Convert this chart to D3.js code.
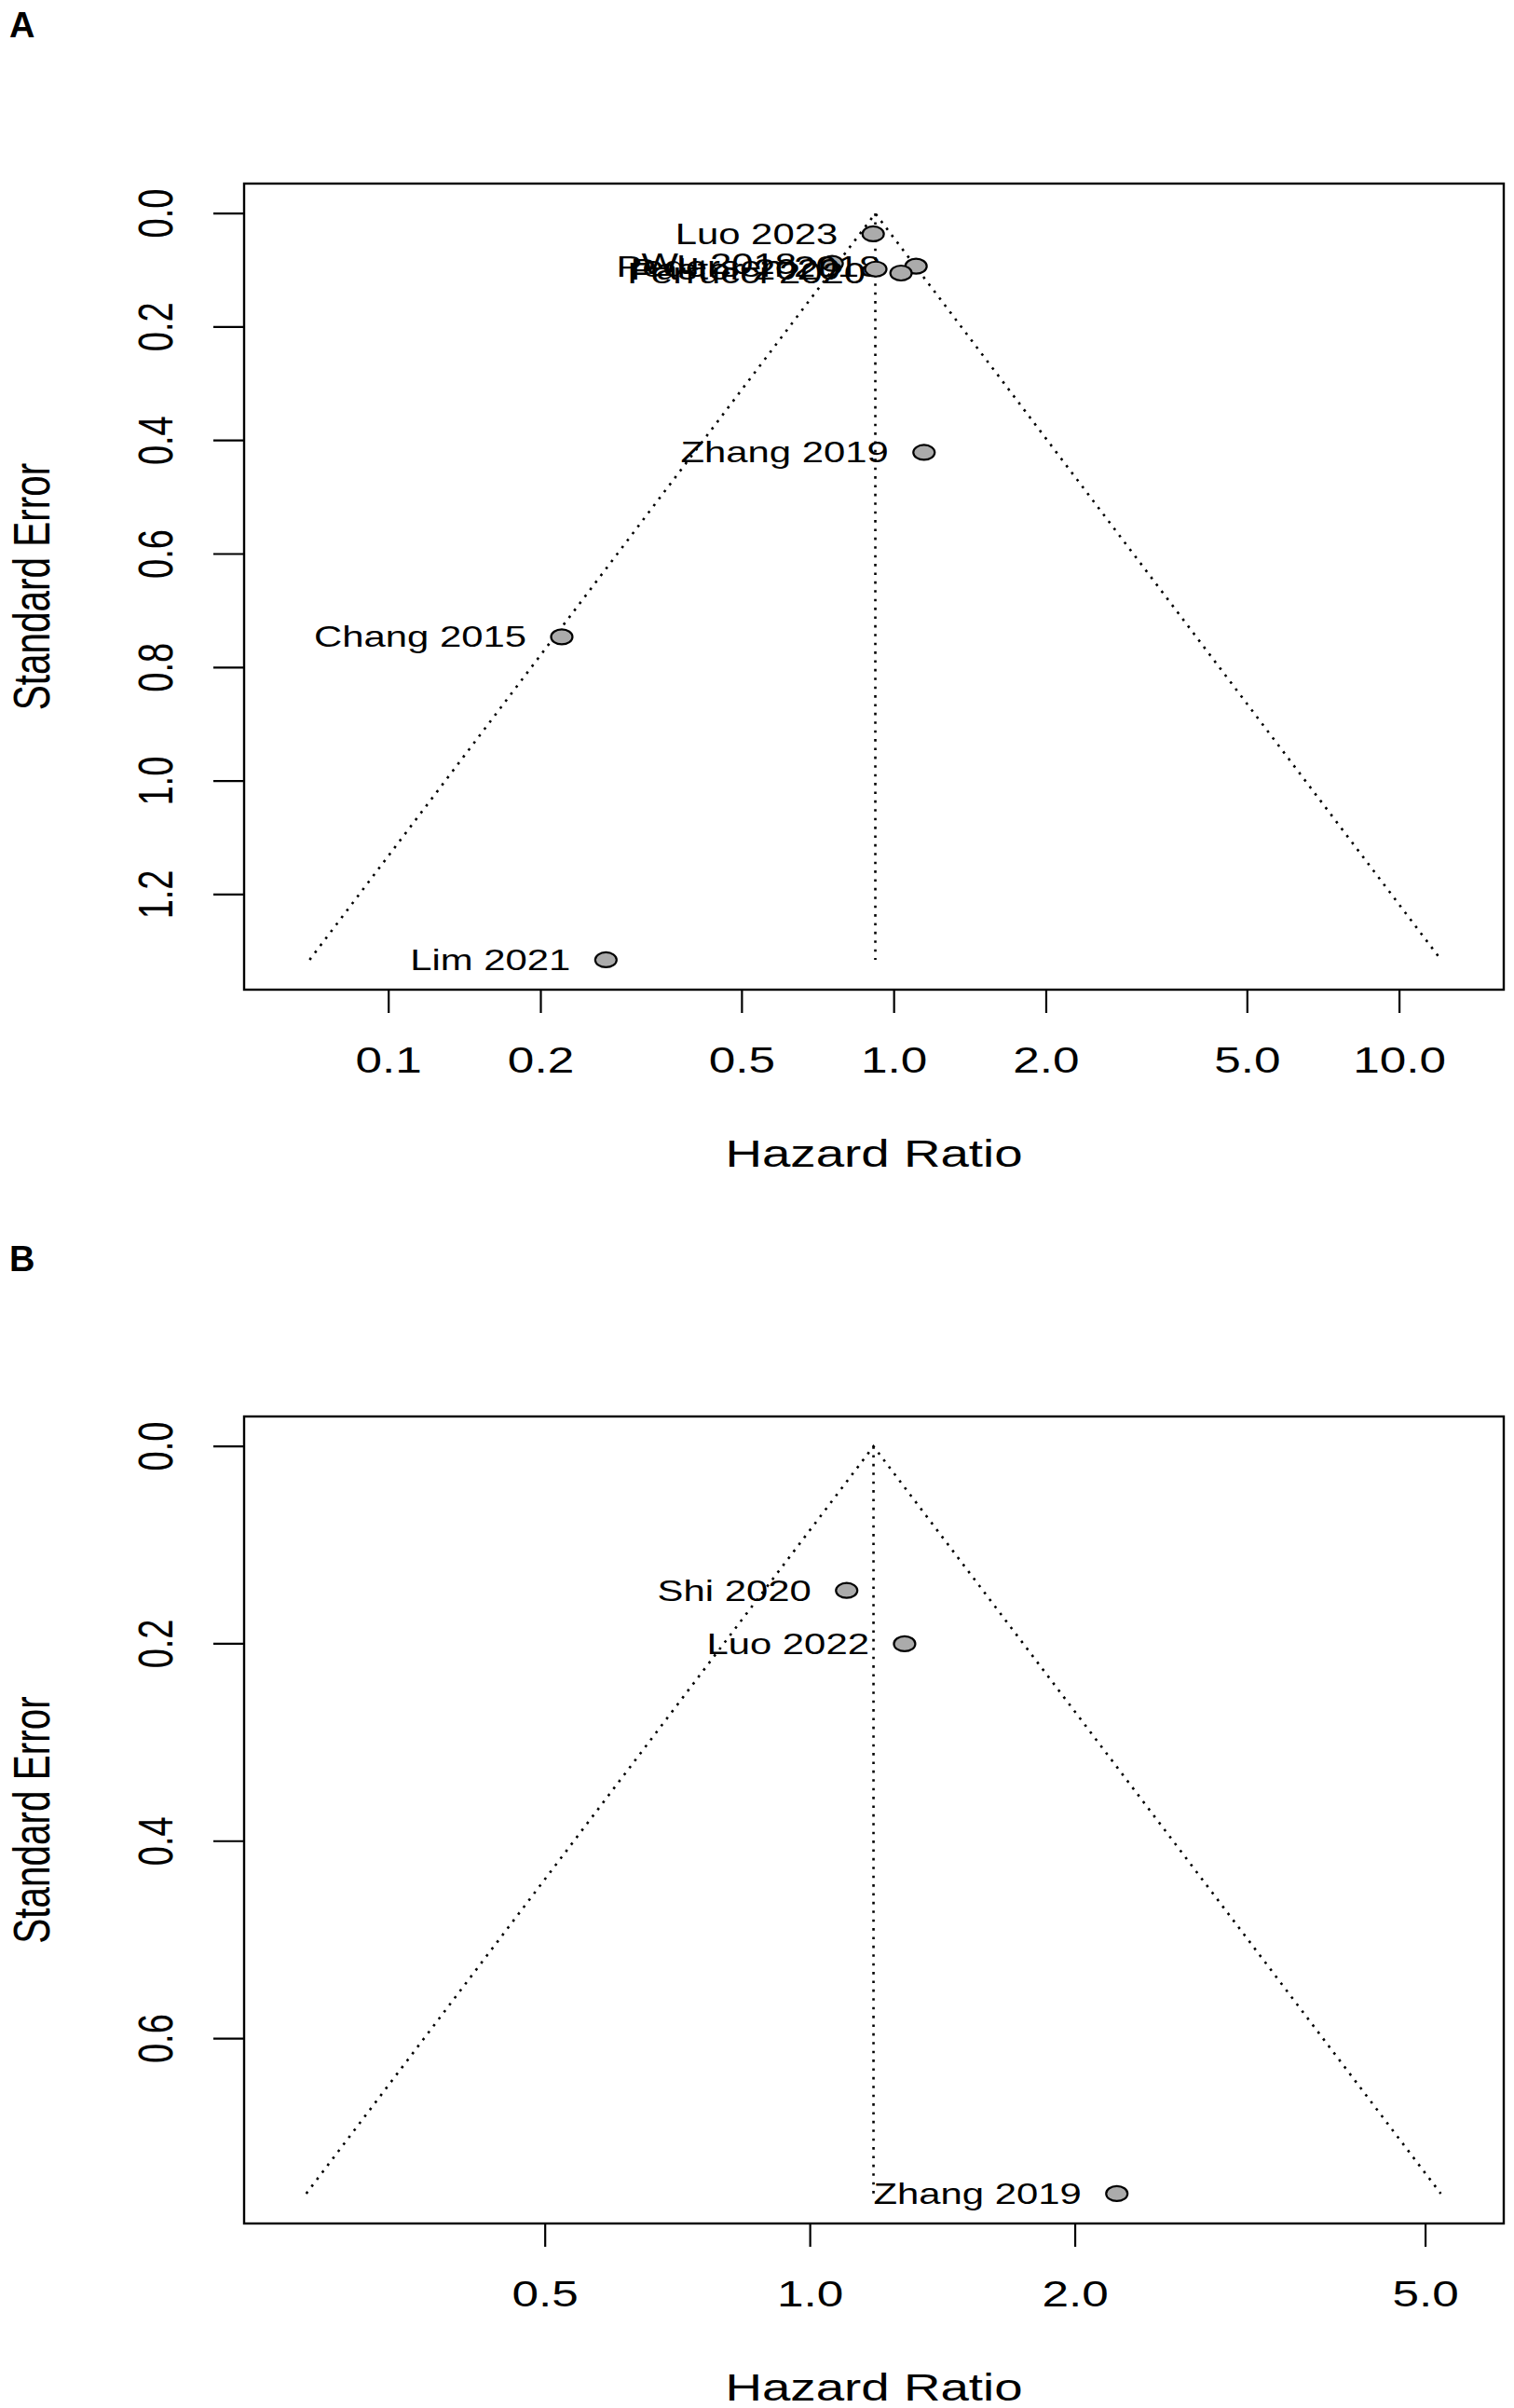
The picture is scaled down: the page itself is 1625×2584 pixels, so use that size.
<!DOCTYPE html>
<html>
<head>
<meta charset="utf-8">
<script src="https://cdn.jsdelivr.net/npm/d3@7"></script>
<style>
  body { margin: 0; background: #fff; }
  svg text { font-family: "Liberation Sans", Arial, sans-serif; fill: #000; }
</style>
</head>
<body>
<svg id="chart" width="1625" height="2584"></svg>
<script>
// Funnel plots, two panels (A: 8 studies, B: 3 studies)

// panel A data
var studiesA = ["Luo 2023", "Wu 2018", "Pedersen 2018", "Pastor 2020", "Ferrucci 2020", "Zhang 2019", "Chang 2015", "Lim 2021"];
var hrA      = [0.909, 0.754, 1.105, 0.920, 1.032, 1.146, 0.220, 0.269];
var seA      = [0.036, 0.088, 0.093, 0.098, 0.105, 0.421, 0.746, 1.315];
var xTicksA  = [0.1, 0.2, 0.5, 1.0, 2.0, 5.0, 10.0];
var yTicksA  = [0.0, 0.2, 0.4, 0.6, 0.8, 1.0, 1.2];
var pooledA  = 0.918;

// panel B data
var studiesB = ["Shi 2020", "Luo 2022", "Zhang 2019"];
var hrB      = [1.10, 1.28, 2.23];
var seB      = [0.146, 0.200, 0.757];
var xTicksB  = [0.5, 1.0, 2.0, 5.0];
var yTicksB  = [0.0, 0.2, 0.4, 0.6];
var pooledB  = 1.18;

var SX = 1.35;   // the figure is stretched sideways, text too

var svg = d3.select("#chart");

function drawFunnel(opt) {
  var box = opt.box;
  var g = svg.append("g");

  // R style 4% padding on both axes
  var lx = opt.xlim.map(Math.log10), pad = (lx[1] - lx[0]) * 0.04;
  var x = d3.scaleLog()
      .domain([Math.pow(10, lx[0] - pad), Math.pow(10, lx[1] + pad)])
      .range([box.left, box.right]);
  var ypad = (opt.ylim[1] - opt.ylim[0]) * 0.04;
  var y = d3.scaleLinear()
      .domain([opt.ylim[0] - ypad, opt.ylim[1] + ypad])
      .range([box.top, box.bottom]);

  // funnel lines
  var seMax = opt.ylim[1], lc = Math.log(opt.pooled);
  var dotted = function(pts) {
    g.append("path")
      .attr("d", d3.line()(pts))
      .attr("fill", "none")
      .attr("stroke", "#000")
      .attr("stroke-width", 2.6)
      .attr("stroke-dasharray", "2.6,6.8");
  };
  dotted([[x(Math.exp(lc - 1.96 * seMax)), y(seMax)], [x(opt.pooled), y(0)], [x(Math.exp(lc + 1.96 * seMax)), y(seMax)]]);
  dotted([[x(opt.pooled), y(0)], [x(opt.pooled), y(seMax)]]);

  // points and study labels
  opt.studies.forEach(function(name, i) {
    var px = x(opt.hr[i]), py = y(opt.se[i]);
    g.append("ellipse")
      .attr("cx", px).attr("cy", py)
      .attr("rx", 11.5).attr("ry", 8)
      .attr("fill", "#ababab")
      .attr("stroke", "#000")
      .attr("stroke-width", 2.2);
    g.append("text")
      .attr("transform", "translate(" + (px - 38) + "," + (py + 11) + ") scale(" + SX + ",1)")
      .attr("text-anchor", "end")
      .style("font-size", "31px")
      .text(name);
  });

  // box
  g.append("rect")
    .attr("x", box.left).attr("y", box.top)
    .attr("width", box.right - box.left).attr("height", box.bottom - box.top)
    .attr("fill", "none")
    .attr("stroke", "#000")
    .attr("stroke-width", 2.4);

  // x axis
  opt.xTicks.forEach(function(t) {
    g.append("line")
      .attr("x1", x(t)).attr("x2", x(t))
      .attr("y1", box.bottom).attr("y2", box.bottom + 25)
      .attr("stroke", "#000").attr("stroke-width", 2.2);
    g.append("text")
      .attr("transform", "translate(" + x(t) + "," + (box.bottom + 89) + ") scale(" + SX + ",1)")
      .attr("text-anchor", "middle")
      .style("font-size", "38px")
      .text(d3.format(".1f")(t));
  });

  // y axis
  opt.yTicks.forEach(function(t) {
    g.append("line")
      .attr("x1", box.left - 33).attr("x2", box.left)
      .attr("y1", y(t)).attr("y2", y(t))
      .attr("stroke", "#000").attr("stroke-width", 2.2);
    g.append("text")
      .attr("transform", "translate(" + (box.left - 77) + "," + y(t) + ") scale(" + SX + ",1) rotate(-90)")
      .attr("text-anchor", "middle")
      .style("font-size", "38px")
      .text(d3.format(".1f")(t));
  });

  // axis titles
  g.append("text")
    .attr("transform", "translate(" + ((box.left + box.right) / 2) + "," + (box.bottom + 190) + ") scale(" + SX + ",1)")
    .attr("text-anchor", "middle")
    .style("font-size", "40.5px")
    .text("Hazard Ratio");
  g.append("text")
    .attr("transform", "translate(53," + ((box.top + box.bottom) / 2) + ") scale(" + SX + ",1) rotate(-90)")
    .attr("text-anchor", "middle")
    .style("font-size", "40.5px")
    .text("Standard Error");

  // panel letter
  g.append("text")
    .attr("x", 10).attr("y", opt.letterY)
    .style("font-size", "38px")
    .style("font-weight", "bold")
    .text(opt.letter);
}

drawFunnel({
  letter: "A", letterY: 40,
  box: {left: 262, right: 1614, top: 197, bottom: 1062},
  xlim: [0.064, 13.0], ylim: [0, 1.315],
  pooled: pooledA, studies: studiesA, hr: hrA, se: seA,
  xTicks: xTicksA, yTicks: yTicksA
});

drawFunnel({
  letter: "B", letterY: 1364,
  box: {left: 262, right: 1614, top: 1520, bottom: 2386},
  xlim: [0.257, 5.43], ylim: [0, 0.757],
  pooled: pooledB, studies: studiesB, hr: hrB, se: seB,
  xTicks: xTicksB, yTicks: yTicksB
});
</script>
</body>
</html>
